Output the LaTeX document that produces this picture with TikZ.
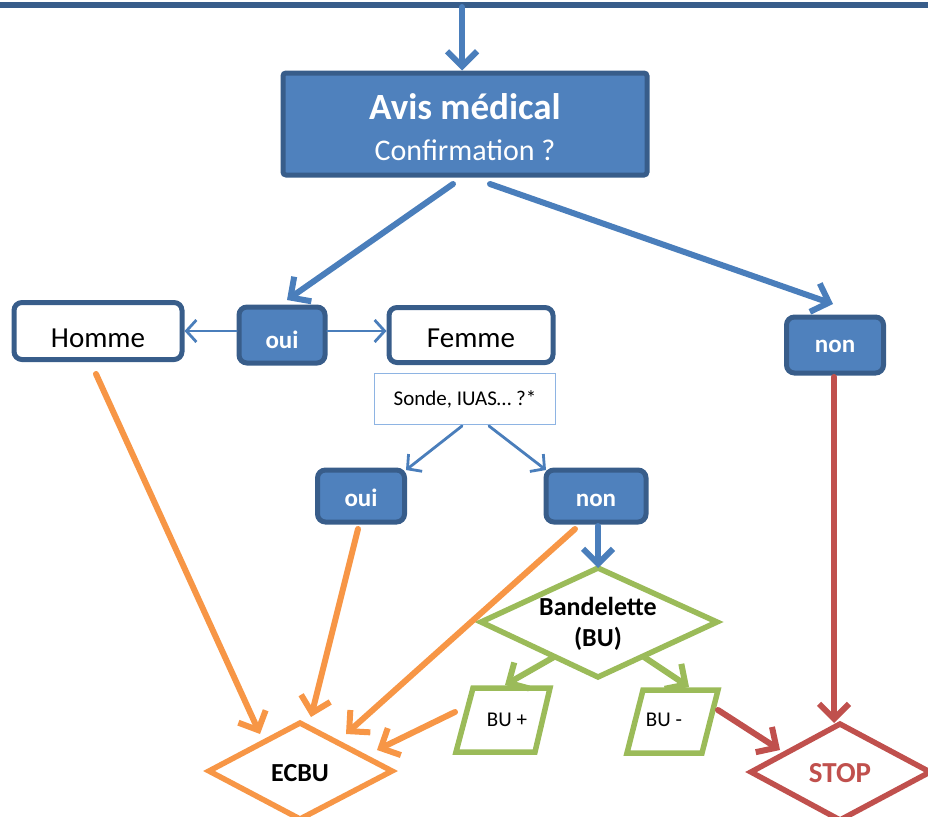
\documentclass[tikz,border=0pt]{standalone}
\usepackage{fontspec}
\setmainfont{Carlito}
\usetikzlibrary{arrows.meta,shapes.geometric}
\definecolor{bfill}{HTML}{4F81BD}
\definecolor{bdraw}{HTML}{385D8A}
\definecolor{barrow}{HTML}{4A7EBB}
\definecolor{orng}{HTML}{F79646}
\definecolor{redc}{HTML}{C0504D}
\definecolor{grn}{HTML}{9BBB59}
\definecolor{lblue}{HTML}{8EB4E3}
\tikzset{
  bluebox/.style={draw=bdraw,fill=bfill,line width=5pt,rounded corners=8pt,text=white,font=\bfseries\fontsize{25}{27}\selectfont,align=center,text depth=0pt},
  whitebox/.style={draw=bdraw,fill=white,line width=5pt,rounded corners=8pt,font=\fontsize{29}{32}\selectfont,text depth=0pt},
  bigarr/.style={line width=6pt,line cap=round,-{Straight Barb[length=15pt,width=30pt,line width=6pt]}},
  thinarr/.style={line width=2.8pt,line cap=round,-{Straight Barb[length=10pt,width=22pt,line width=2.8pt]}},
  diam/.style={line width=5.5pt,line join=miter},
}
\begin{document}
\begin{tikzpicture}[x=1pt,y=-1pt]
\useasboundingbox (0,0) rectangle (928,816);
% top line
\coordinate (tl) at (0,5);
\coordinate (tr) at (928,5);
\draw[bdraw,line width=6pt] (tl) -- (tr);
\coordinate (tm) at (462,7);
% main box
\node[bluebox,minimum width=364pt,minimum height=102pt,rounded corners=3pt] (avis) at (465,124) {};
\node[text=white,font=\bfseries\fontsize{37}{40}\selectfont] (avt) at (465,107) {Avis médical};
\node[text=white,font=\fontsize{30}{32}\selectfont] (conf) at (465,150) {Confirmation ?};
\draw[barrow,bigarr] (tm) -- (avis.north -| tm);
% level 2
\node[whitebox,minimum width=168pt,minimum height=57pt,text height=33pt] (homme) at (98,331) {Homme};
\node[bluebox,minimum width=86pt,minimum height=56pt,text height=26pt] (oui1) at (282,335) {oui};
\node[whitebox,minimum width=164pt,minimum height=55pt,text height=24pt] (femme) at (471,335) {Femme};
\node[bluebox,minimum width=97pt,minimum height=56pt,text height=15pt] (non1) at (835,345) {non};
\coordinate (a1s) at (453,184);
\coordinate (a1e) at (287,300);
\coordinate (a2s) at (490,184);
\coordinate (a2e) at (833,304);
\draw[barrow,bigarr] (a1s) -- (a1e);
\draw[barrow,bigarr] (a2s) -- (a2e);
\draw[barrow,thinarr] (oui1.west |- 0,331) -- (homme.east |- 0,331);
\draw[barrow,thinarr] (oui1.east |- 0,331) -- (femme.west |- 0,331);
% sonde
\node[draw=lblue,fill=white,line width=1pt,minimum width=181pt,minimum height=51pt,font=\fontsize{21}{23}\selectfont] (sonde) at (465,399) {Sonde, IUAS… ?*};
\node[bluebox,minimum width=87pt,minimum height=52pt,text height=21pt] (oui2) at (361,496) {oui};
\node[bluebox,minimum width=100pt,minimum height=52pt,text height=21pt] (non2) at (596,496) {non};
\coordinate (s1s) at (462,426);
\coordinate (s1e) at (406,470);
\coordinate (s2s) at (489,426);
\coordinate (s2e) at (546,470);
\draw[barrow,thinarr] (s1s) -- (s1e);
\draw[barrow,thinarr] (s2s) -- (s2e);
% bandelette
\coordinate (bL) at (481,622);
\coordinate (bT) at (598,568);
\coordinate (bR) at (717,622);
\coordinate (bB) at (598,677);
\draw[grn,diam,fill=white] (bL) -- (bT) -- (bR) -- (bB) -- cycle;
\node[font=\bfseries\fontsize{26}{31}\selectfont,align=center] (band) at (598,624) {Bandelette\\(BU)};
\coordinate (n2b) at (598,526);
\draw[barrow,bigarr] (n2b) -- (bT);
% BU+ and BU-
\coordinate (p1a) at (473,688);
\coordinate (p1b) at (550,688);
\coordinate (p1c) at (535,752);
\coordinate (p1d) at (456,752);
\draw[grn,diam] (p1a) -- (p1b) -- (p1c) -- (p1d) -- cycle;
\node[font=\fontsize{21}{23}\selectfont] (bup) at (507,720) {BU +};
\coordinate (p2a) at (643,690);
\coordinate (p2b) at (718,690);
\coordinate (p2c) at (702,753);
\coordinate (p2d) at (627,753);
\draw[grn,diam] (p2a) -- (p2b) -- (p2c) -- (p2d) -- cycle;
\node[font=\fontsize{21}{23}\selectfont] (bum) at (664,720) {BU -};
\coordinate (g1s) at (554,657);
\coordinate (g1e) at (505,685);
\coordinate (g2s) at (644,657);
\coordinate (g2e) at (689,687);
\draw[grn,bigarr] (g1s) -- (g1e);
\draw[grn,bigarr] (g2s) -- (g2e);
% ECBU
\coordinate (eL) at (209,771);
\coordinate (eT) at (300,723);
\coordinate (eR) at (392,771);
\coordinate (eB) at (300,819);
\draw[orng,diam,fill=white] (eL) -- (eT) -- (eR) -- (eB) -- cycle;
\node[font=\bfseries\fontsize{26}{28}\selectfont] (ecbu) at (300,773) {ECBU};
% STOP
\coordinate (sL) at (751,772);
\coordinate (sT) at (840,724);
\coordinate (sR) at (930,772);
\coordinate (sB) at (840,820);
\draw[redc,diam,fill=white] (sL) -- (sT) -- (sR) -- (sB) -- cycle;
\node[text=redc,font=\bfseries\fontsize{29}{31}\selectfont] (stop) at (840,773) {STOP};
% orange arrows
\coordinate (o1s) at (96,374);
\coordinate (o1e) at (260,734);
\coordinate (o2s) at (358,529);
\coordinate (o2e) at (311,717);
\coordinate (o3s) at (575,529);
\coordinate (o3e) at (346,734);
\coordinate (o4s) at (455,712);
\coordinate (o4e) at (377,750);
\draw[orng,bigarr] (o1s) -- (o1e);
\draw[orng,bigarr] (o2s) -- (o2e);
\draw[orng,bigarr] (o3s) -- (o3e);
\draw[orng,bigarr] (o4s) -- (o4e);
% red arrows
\coordinate (r1s) at (834,377);
\coordinate (r1e) at (834,723);
\coordinate (r2s) at (718,710);
\coordinate (r2e) at (780,750);
\draw[redc,bigarr] (r1s) -- (r1e);
\draw[redc,bigarr] (r2s) -- (r2e);
\end{tikzpicture}
\end{document}
